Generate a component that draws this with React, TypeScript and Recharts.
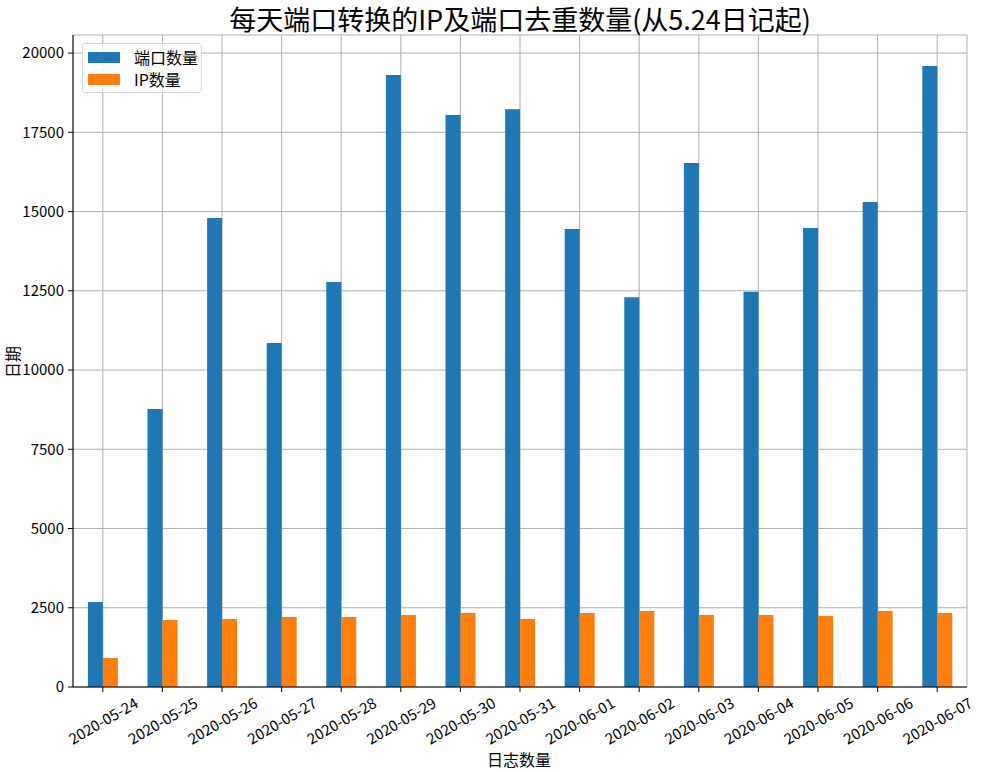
import React from 'react';
import { BarChart, Bar, XAxis, YAxis, CartesianGrid } from 'recharts';

const dates = [
  '2020-05-24', '2020-05-25', '2020-05-26', '2020-05-27', '2020-05-28',
  '2020-05-29', '2020-05-30', '2020-05-31', '2020-06-01', '2020-06-02',
  '2020-06-03', '2020-06-04', '2020-06-05', '2020-06-06', '2020-06-07'
];
const portCounts = [2680, 8770, 14800, 10850, 12780, 19310, 18050, 18230, 14450, 12300, 16530, 12470, 14480, 15300, 19590];
const ipCounts = [915, 2115, 2145, 2210, 2210, 2270, 2335, 2145, 2335, 2400, 2270, 2270, 2240, 2400, 2335];
const yTicks = [0, 2500, 5000, 7500, 10000, 12500, 15000, 17500, 20000];

const BLUE = '#1f77b4';
const ORANGE = '#ff7f0e';
const FONT = '"Noto Sans CJK SC", "Noto Sans", sans-serif';

const data = dates.map((d, i) => ({ date: d, port: portCounts[i], ip: ipCounts[i] }));

const DateTick = ({ x, y, payload }: any) => (
  <g transform={`translate(${x},${y + 26})`}>
    <text
      textAnchor="middle"
      dominantBaseline="central"
      transform="rotate(-30)"
      fontSize={15}
      fill="#000"
      fontFamily={FONT}
    >
      {payload.value}
    </text>
  </g>
);

export default function App() {
  return (
    <div style={{ position: 'absolute', left: 0, top: 0, width: 981, height: 772, fontFamily: FONT, background: '#fff' }}>
      <BarChart
        width={981}
        height={772}
        data={data}
        margin={{ top: 35, right: 14, left: 0, bottom: 0 }}
        barCategoryGap="25%"
        barGap={0}
      >
        <CartesianGrid stroke="#b0b0b0" strokeWidth={1} />
        <XAxis
          dataKey="date"
          height={85}
          tick={<DateTick />}
          tickSize={5}
          tickMargin={2}
          interval={0}
          stroke="#000"
          tickLine={{ stroke: '#000' }}
        />
        <XAxis xAxisId="top" orientation="top" dataKey="date" height={0} tick={false} tickLine={false} stroke="#000" />
        <YAxis
          width={73}
          domain={[0, 20570]}
          ticks={yTicks}
          allowDataOverflow
          tickSize={5}
          tickMargin={4}
          stroke="#000"
          tick={{ fill: '#000', fontSize: 15, fontFamily: FONT }}
        />
        <YAxis yAxisId="right" orientation="right" width={0} tick={false} tickLine={false} stroke="#000" domain={[0, 20570]} />
        <Bar dataKey="port" name="端口数量" fill={BLUE} isAnimationActive={false} />
        <Bar dataKey="ip" name="IP数量" fill={ORANGE} isAnimationActive={false} />
      </BarChart>

      <div style={{ position: 'absolute', left: 0, width: 1040, top: 2, textAlign: 'center', fontSize: 27, lineHeight: '34px', color: '#000' }}>
        每天端口转换的IP及端口去重数量(从5.24日记起)
      </div>

      <div style={{ position: 'absolute', left: 0, width: 1038, top: 749, textAlign: 'center', fontSize: 16, lineHeight: '20px', color: '#000' }}>
        日志数量
      </div>

      <div style={{ position: 'absolute', left: 12, top: 362, transform: 'translate(-50%, -50%) rotate(-90deg)', fontSize: 16, lineHeight: '18px', color: '#000', whiteSpace: 'nowrap' }}>
        日期
      </div>

      <div
        style={{
          position: 'absolute', left: 82, top: 43, width: 120, height: 50, boxSizing: 'border-box',
          border: '1px solid #d8d8d8', borderRadius: 3, background: 'rgba(255,255,255,0.8)'
        }}
      >
        <div style={{ position: 'absolute', left: 5, top: 8, width: 32, height: 11, background: BLUE }} />
        <div style={{ position: 'absolute', left: 51, top: 2, fontSize: 16, lineHeight: '22px', color: '#000' }}>端口数量</div>
        <div style={{ position: 'absolute', left: 5, top: 30, width: 32, height: 11, background: ORANGE }} />
        <div style={{ position: 'absolute', left: 51, top: 24, fontSize: 16, lineHeight: '22px', color: '#000' }}>IP数量</div>
      </div>
    </div>
  );
}
